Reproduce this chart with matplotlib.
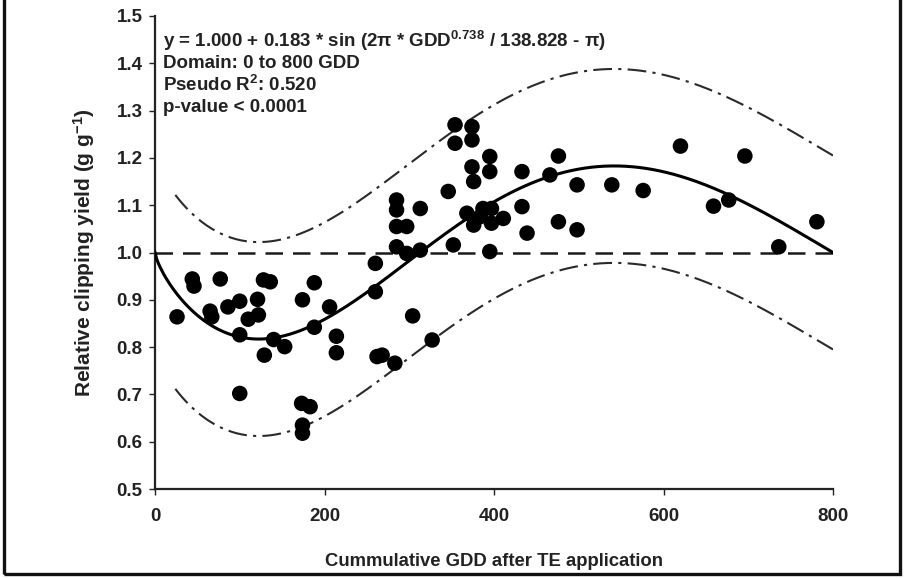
import numpy as np
import matplotlib
matplotlib.use('agg')
import matplotlib.pyplot as plt
from matplotlib.patches import Rectangle

# observed points (GDD, relative clipping yield)
gdd = [26, 44, 46, 77, 65, 67, 86, 100, 110, 122, 121, 128, 136, 100, 140, 153,
       129, 100, 174, 188, 206, 188, 214, 214, 173, 183, 174, 174,
       260, 260, 262, 268, 283, 285, 285, 285, 297, 285, 297, 313, 313, 304, 327,
       346, 352, 354, 354, 374, 374, 395, 395, 374, 376, 433, 476, 466, 498,
       433, 476, 498, 439, 395, 368, 376, 387, 397, 397, 411, 384,
       539, 576, 620, 696, 659, 677, 736, 781]
yld = [0.864, 0.944, 0.929, 0.944, 0.876, 0.864, 0.885, 0.897, 0.859, 0.868, 0.901,
       0.942, 0.938, 0.826, 0.816, 0.801, 0.783, 0.702, 0.900, 0.936, 0.885, 0.842,
       0.823, 0.788, 0.681, 0.674, 0.635, 0.618,
       0.977, 0.917, 0.780, 0.783, 0.766, 1.111, 1.090, 1.055, 1.055, 1.012, 0.998,
       1.005, 1.093, 0.866, 0.815, 1.129, 1.016, 1.270, 1.231, 1.266, 1.238, 1.203,
       1.171, 1.181, 1.150, 1.171, 1.204, 1.164, 1.143, 1.097, 1.065, 1.048, 1.041,
       1.002, 1.083, 1.058, 1.093, 1.093, 1.062, 1.072, 1.076,
       1.143, 1.131, 1.225, 1.204, 1.098, 1.111, 1.012, 1.065]

# model parameters (from the equation printed on the chart)
a = 1.000
b = 0.183
expo = 0.738
c = 138.828
band = 0.205
band_start = 24

xticks = [0, 200, 400, 600, 800]
yticks = [0.5, 0.6, 0.7, 0.8, 0.9, 1.0, 1.1, 1.2, 1.3, 1.4, 1.5]

plt.rcParams['font.family'] = ['Liberation Sans', 'DejaVu Sans']
plt.rcParams['font.weight'] = 'bold'
plt.rcParams['mathtext.fontset'] = 'custom'
plt.rcParams['mathtext.rm'] = 'Liberation Sans:bold'
plt.rcParams['mathtext.bf'] = 'Liberation Sans:bold'
plt.rcParams['mathtext.default'] = 'bf'


def model(x):
    return a + b * np.sin(2 * np.pi * x ** expo / c - np.pi)


fig = plt.figure(figsize=(9.05, 5.78), dpi=100)
ax = fig.add_axes([155 / 905, 1 - 489 / 578, 678 / 905, 473 / 578])

xs = np.linspace(0, 800, 400)
xb = np.linspace(band_start, 800, 400)
ax.plot([0, 800], [1.0, 1.0], color='#1a1a1a', lw=1.8, dashes=(7, 4), zorder=1)
ax.plot(xb, model(xb) + band, color='#2a2a2a', lw=1.5, dashes=(9, 3, 1.5, 3), zorder=1)
ax.plot(xb, model(xb) - band, color='#2a2a2a', lw=1.5, dashes=(9, 3, 1.5, 3), zorder=1)
ax.scatter(gdd, yld, s=125, color='black', edgecolors='none', zorder=2)
ax.plot(xs, model(xs), color='black', lw=2.2, zorder=3)

ax.set_xlim(0, 800)
ax.set_ylim(0.5, 1.5)
ax.set_xticks(xticks)
ax.set_yticks(yticks)
ax.set_xticklabels([str(t) for t in xticks])
ax.set_yticklabels(['%.1f' % t for t in yticks])
ax.tick_params(axis='both', direction='out', length=4, width=1.0, labelsize=13.5, colors='#222222')
ax.tick_params(axis='x', pad=10)
ax.tick_params(axis='y', pad=5)
for side in ['top', 'right']:
    ax.spines[side].set_visible(False)
for side in ['left', 'bottom']:
    ax.spines[side].set_linewidth(1.6)
    ax.spines[side].set_color('#222222')

ax.set_ylabel('Relative clipping yield (g g$^{-1}$)', fontsize=15, fontweight='bold',
              color='#222222', labelpad=14)
ax.set_xlabel('Cummulative GDD after TE application', fontsize=13.3, fontweight='bold',
              color='#222222', labelpad=20)

lines = ['y = 1.000 + 0.183 * sin (2\u03c0 * GDD$^{0.738}$ / 138.828 - \u03c0)',
         'Domain: 0 to 800 GDD',
         'Pseudo R$^{2}$: 0.520',
         'p-value < 0.0001']
for i, s in enumerate(lines):
    ax.text(10, 1.447 - i * 0.0465, s, fontsize=13.5, fontweight='bold',
            color='#222222', va='center', ha='left')

# frame around the picture
fig.add_artist(Rectangle((4 / 905, 4 / 578), 896 / 905, 590 / 578, transform=fig.transFigure,
                         fill=False, lw=2.4, edgecolor='#111111'))

fig.savefig('out.png', dpi=100)
